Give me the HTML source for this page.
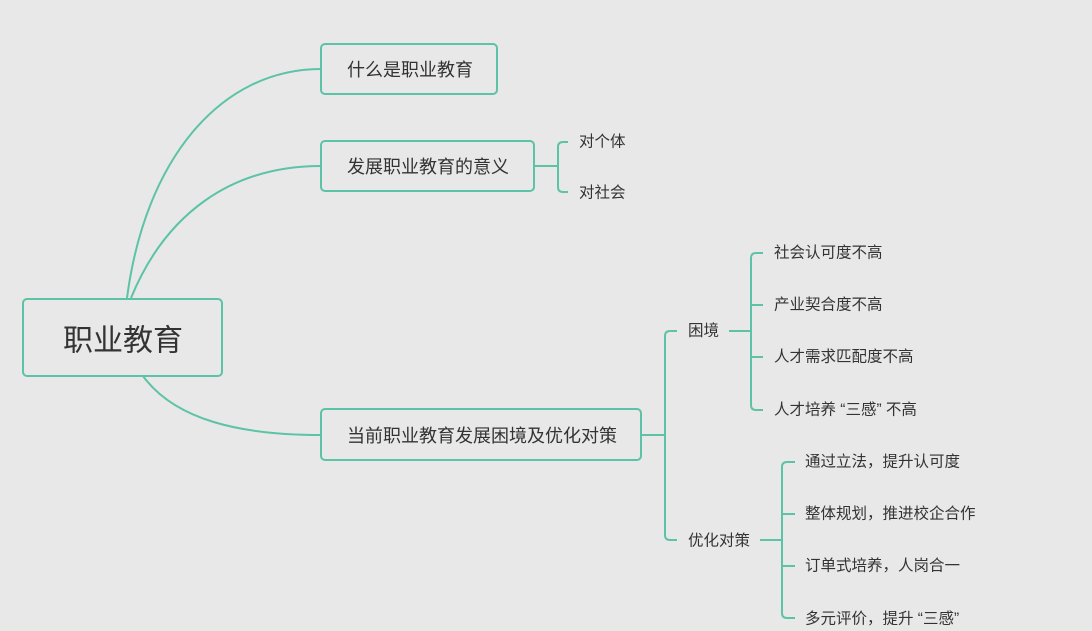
<!DOCTYPE html>
<html><head><meta charset="utf-8"><style>
html,body{margin:0;padding:0;background:#e8e8e8;}
svg{display:block;}
text{font-family:"Liberation Sans","Noto Sans CJK SC",sans-serif;fill:#333;dominant-baseline:central;}
</style></head><body>
<svg width="1092" height="631" viewBox="0 0 1092 631" xmlns="http://www.w3.org/2000/svg">
<g fill="none" stroke="#5cc3a6" stroke-width="2">
<path d="M127,298 C145,160 220,69 321,69"/>
<path d="M131,298 C165,215 230,166 321,166"/>
<path d="M143,376 C175,420 240,435 321,435"/>
<rect x="23" y="299" width="199" height="77" rx="4"/>
<rect x="321" y="44" width="176" height="50" rx="4"/>
<rect x="321" y="141" width="213" height="50" rx="4"/>
<rect x="321" y="409" width="320" height="51" rx="4"/>
<path d="M534,166 H558"/>
<path d="M568,142 H563 Q558,142 558,147 V187 Q558,192 563,192 H568"/>
<path d="M641,435 H665"/>
<path d="M677,331 H670 Q665,331 665,336 V535 Q665,540 670,540 H677"/>
<path d="M729,331 H751"/>
<path d="M763,253 H756 Q751,253 751,258 V405 Q751,410 756,410 H763"/>
<path d="M751,305 H763 M751,357 H763"/>
<path d="M760,540 H782"/>
<path d="M795,462 H787 Q782,462 782,467 V613 Q782,618 787,618 H795"/>
<path d="M782,514 H795 M782,566 H795"/>
</g>
<text x="123" y="341" font-size="30" text-anchor="middle">职业教育</text>
<text x="347" y="70" font-size="18">什么是职业教育</text>
<text x="347" y="167" font-size="18">发展职业教育的意义</text>
<text x="347" y="436" font-size="18">当前职业教育发展困境及优化对策</text>
<text x="579" y="142" font-size="15.5">对个体</text>
<text x="579" y="193" font-size="15.5">对社会</text>
<text x="688" y="331" font-size="15.5">困境</text>
<text x="688" y="541" font-size="15.5">优化对策</text>
<text x="774" y="253" font-size="15.5">社会认可度不高</text>
<text x="774" y="305" font-size="15.5">产业契合度不高</text>
<text x="774" y="357" font-size="15.5">人才需求匹配度不高</text>
<text x="774" y="410" font-size="15.5">人才培养 “三感” 不高</text>
<text x="805" y="462" font-size="15.5">通过立法，提升认可度</text>
<text x="805" y="514" font-size="15.5">整体规划，推进校企合作</text>
<text x="805" y="566" font-size="15.5">订单式培养，人岗合一</text>
<text x="805" y="619" font-size="15.5">多元评价，提升 “三感”</text>
</svg>
</body></html>
